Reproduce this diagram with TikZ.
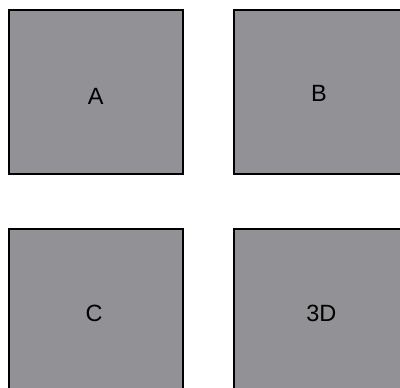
\documentclass[tikz,border=0pt]{standalone}
\usepackage{fontspec}
\setmainfont{Liberation Sans}
\definecolor{PanelGray}{HTML}{929195}

\begin{document}
\begin{tikzpicture}[x=1pt,y=-1pt,
    panel/.style={draw=black,fill=PanelGray,line width=2pt,
                  minimum width=174.5pt,minimum height=163.4pt,inner sep=0pt},
    lab/.style={font=\fontsize{23.5}{28}\selectfont,inner sep=0pt}]
    \useasboundingbox (0,0) rectangle (400,388);
    \clip (0,0) rectangle (400,388);
    \node[panel] (pA) at (95.75,92) {};
    \node[panel] (pB) at (321.25,92) {};
    \node[panel] (pC) at (95.75,310.7) {};
    \node[panel] (pD) at (321.25,310.7) {};
    \node[lab] (lA) at (95.7,96) {A};
    \node[lab] (lB) at (319,93.3) {B};
    \node[lab] (lC) at (94,313.3) {C};
    \node[lab] (lD) at (321.3,313.3) {3D};
  \end{tikzpicture}
\end{document}
